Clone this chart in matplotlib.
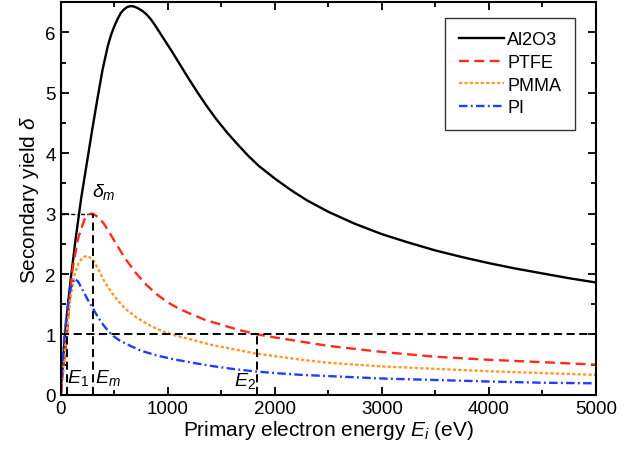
import numpy as np
import matplotlib
matplotlib.use("Agg")
import matplotlib.pyplot as plt
from matplotlib.ticker import MultipleLocator

plt.rcParams['font.family'] = 'Liberation Sans'
plt.rcParams['mathtext.fontset'] = 'custom'
plt.rcParams['mathtext.rm'] = 'Liberation Sans'
plt.rcParams['mathtext.it'] = 'Liberation Sans:italic'

# secondary yield curves, energies in eV
e_al2o3 = [0, 20, 45, 70, 95, 140, 190, 240, 290, 340, 390, 440, 470, 500, 530, 560, 590,
           620, 650, 680, 710, 740, 770, 800, 840, 880, 960, 1040, 1120, 1200, 1280,
           1360, 1450, 1550, 1650, 1750, 1850, 2000, 2150, 2300, 2500, 2750, 3000,
           3250, 3500, 3750, 4000, 4250, 4500, 4750, 5000]
d_al2o3 = [0, 0.55, 1.1, 1.55, 1.95, 2.6, 3.25, 3.8, 4.35, 4.88, 5.38, 5.78, 5.96, 6.1, 6.22, 6.32, 6.38,
           6.42, 6.435, 6.43, 6.41, 6.38, 6.345, 6.3, 6.22, 6.12, 5.9, 5.68, 5.45, 5.22, 5.0,
           4.79, 4.57, 4.35, 4.15, 3.96, 3.79, 3.58, 3.39, 3.22, 3.03, 2.83, 2.66,
           2.52, 2.39, 2.28, 2.18, 2.09, 2.01, 1.93, 1.86]

e_ptfe = [0, 25, 58, 90, 112, 160, 220, 260, 300, 350, 400, 450, 500, 600, 700, 800,
          900, 1000, 1100, 1200, 1350, 1500, 1650, 1838, 2000, 2250, 2500, 2750, 3000,
          3250, 3500, 4000, 4500, 5000]
d_ptfe = [0, 0.45, 1.0, 1.75, 2.1, 2.58, 2.9, 2.99, 3.0, 2.94, 2.84, 2.7, 2.55, 2.26, 2.02, 1.82,
          1.66, 1.53, 1.43, 1.35, 1.24, 1.16, 1.08, 1.0, 0.95, 0.88, 0.81, 0.76, 0.71,
          0.67, 0.63, 0.58, 0.54, 0.5]

e_pmma = [0, 25, 55, 90, 130, 170, 210, 250, 300, 350, 400, 450, 500, 600, 700, 800,
          900, 1000, 1100, 1250, 1400, 1600, 1800, 2000, 2250, 2500, 2750, 3000, 3500,
          4000, 4500, 5000]
d_pmma = [0, 0.5, 1.05, 1.6, 2.0, 2.2, 2.28, 2.3, 2.24, 2.08, 1.9, 1.76, 1.63, 1.43, 1.29, 1.18,
          1.09, 1.02, 0.97, 0.9, 0.83, 0.76, 0.69, 0.64, 0.58, 0.53, 0.5, 0.47, 0.43,
          0.39, 0.36, 0.33]

e_pi = [0, 15, 35, 60, 90, 125, 160, 200, 250, 300, 350, 400, 450, 500, 550, 650, 750,
        900, 1050, 1200, 1400, 1600, 1800, 2000, 2250, 2500, 2750, 3000, 3500, 4000,
        4500, 5000]
d_pi = [0, 0.5, 1.0, 1.4, 1.75, 1.92, 1.88, 1.75, 1.58, 1.43, 1.28, 1.15, 1.04, 0.96, 0.9, 0.81, 0.73,
        0.65, 0.59, 0.54, 0.48, 0.43, 0.39, 0.36, 0.33, 0.31, 0.29, 0.27, 0.245, 0.22,
        0.2, 0.19]

# characteristic points of PTFE
E1 = 58
Em = 300
E2 = 1838
delta_m = 3.0

fig = plt.figure(figsize=(6.4, 4.56), dpi=100)
ax = fig.add_axes([0.095, 0.132, 0.836, 0.861])

ax.plot(e_al2o3, d_al2o3, color='black', lw=1.7, label='Al2O3')
ax.plot(e_ptfe, d_ptfe, color='#ff2a1a', lw=1.7, dashes=(4.2, 2.3), label='PTFE')
ax.plot(e_pmma, d_pmma, color='#ff9a2e', lw=1.7, dashes=(1.4, 0.9), label='PMMA')
ax.plot(e_pi, d_pi, color='#1f3cff', lw=1.7, dashes=(3.6, 1.4, 0.8, 1.4), label='PI')

# guide lines
guide = dict(color='black', lw=1.4, dashes=(4.2, 2.3))
ax.plot([0, 5000], [1, 1], **guide)
ax.plot([0, Em], [delta_m, delta_m], color='black', lw=1.0, dashes=(3, 1.5, 1, 1.5))
ax.plot([Em, Em], [0, delta_m], **guide)
ax.plot([E1, E1], [0, 1], **guide)
ax.plot([E2, E2], [0, 1], **guide)

ax.text(290, 3.38, r'$\delta_m$', fontsize=14, va='center', ha='left')
ax.text(62, 0.3, r'$E_1$', fontsize=14, va='center', ha='left')
ax.text(318, 0.3, r'$E_m$', fontsize=14, va='center', ha='left')
ax.text(1825, 0.25, r'$E_2$', fontsize=14, va='center', ha='right')

ax.set_xlim(0, 5000)
ax.set_ylim(0, 6.5)
ax.xaxis.set_major_locator(MultipleLocator(1000))
ax.xaxis.set_minor_locator(MultipleLocator(500))
ax.yaxis.set_major_locator(MultipleLocator(1))
ax.yaxis.set_minor_locator(MultipleLocator(0.5))
ax.tick_params(which='both', direction='in', top=True, right=True, labelsize=13.5, width=1.3)
ax.tick_params(which='major', length=6)
ax.tick_params(which='minor', length=3.6)
for s in ax.spines.values():
    s.set_linewidth(1.5)

ax.set_xlabel(r'Primary electron energy $E_i$ (eV)', fontsize=15, labelpad=1)
ax.set_ylabel(r'Secondary yield $\delta$', fontsize=15, labelpad=3)

leg = ax.legend(loc='upper right', bbox_to_anchor=(0.961, 0.961), borderaxespad=0,
                fontsize=13, frameon=True, fancybox=False, edgecolor='black',
                handlelength=2.5, handletextpad=0.2, labelspacing=0.32, borderpad=0.75)
leg.get_frame().set_linewidth(1.0)

fig.savefig('out.png', dpi=100)
